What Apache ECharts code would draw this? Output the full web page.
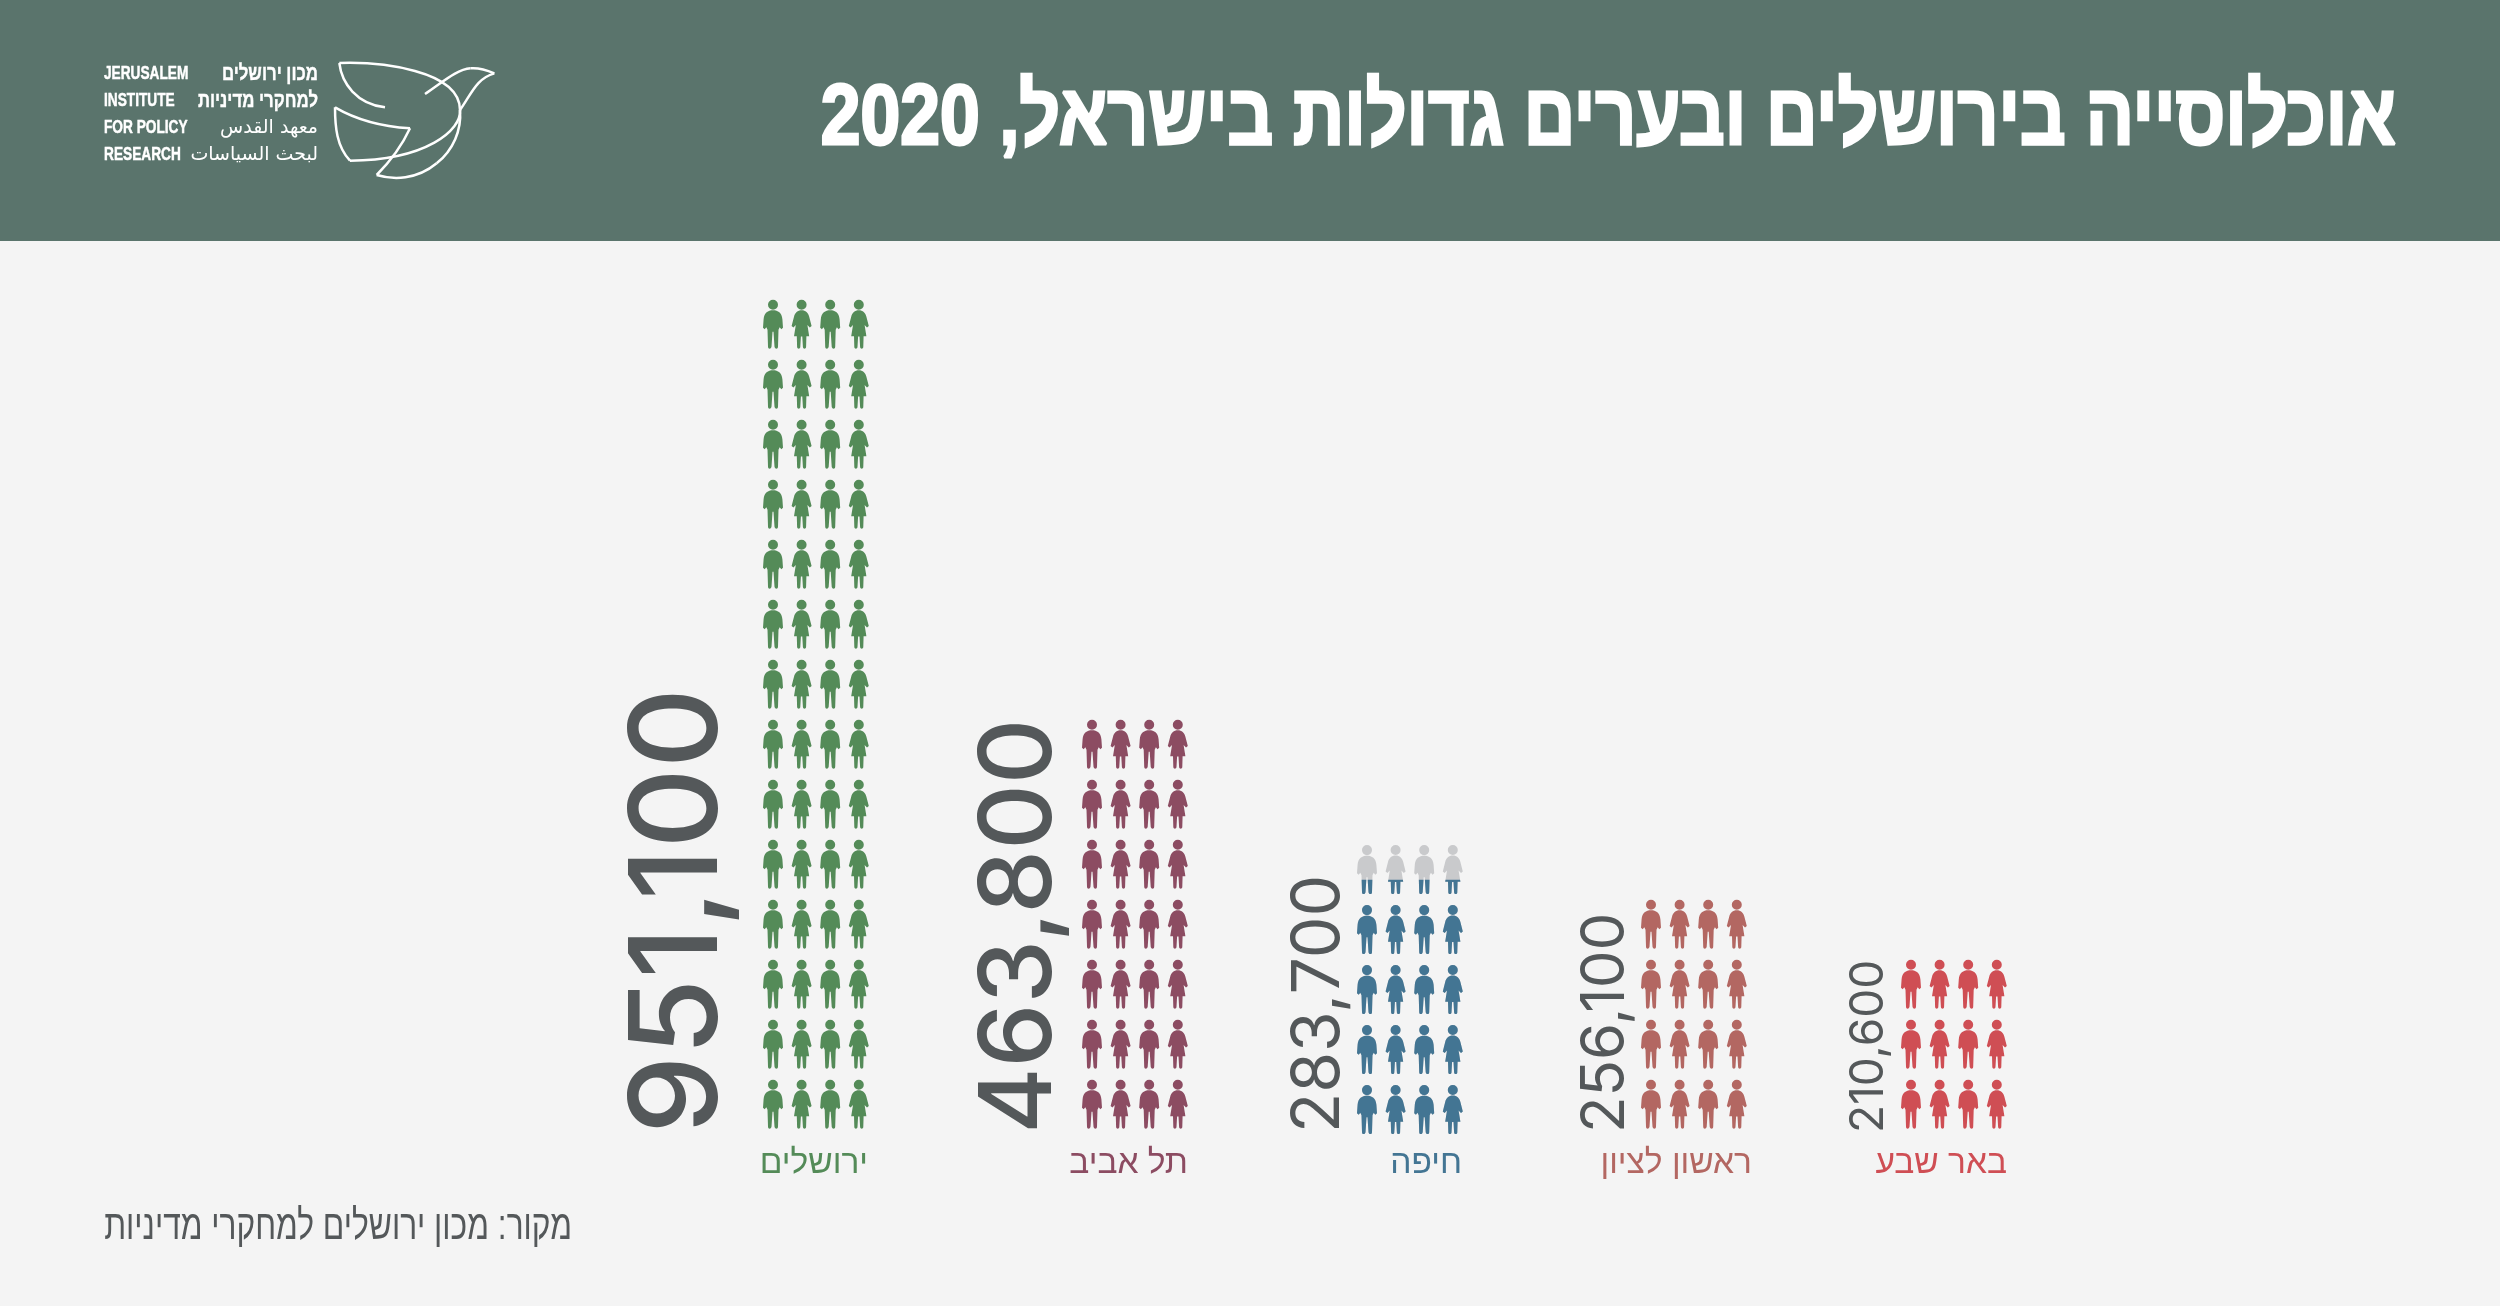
<!DOCTYPE html>
<html>
<head>
<meta charset="utf-8">
<title>אוכלוסייה בירושלים</title>
<style>html,body{margin:0;padding:0;background:#f4f4f4}#main{width:2500px;height:1306px}</style>
<script src="https://cdn.jsdelivr.net/npm/echarts@6/dist/echarts.min.js"></script>
</head>
<body>
<div id="main"></div>
<script>
// data
var cities = ['ירושלים', 'תל אביב', 'חיפה', 'ראשון לציון', 'באר שבע'];
var population = ['951,100', '463,800', '283,700', '256,100', '210,600'];
var filledRows = [14, 7, 4.33, 4, 3];   // rows of figures, Haifa's top row is part filled
var shownRows = [14, 7, 5, 4, 3];
var figureColumns = ['גבר', 'אישה', 'גבר', 'אישה'];
var cityColors = ['#548b58', '#8c4c62', '#437593', '#b36762', '#cf4e54'];

// layout
var gridLeft = [758.7, 1077.7, 1352.7, 1636.7, 1896.7];
var gridBase = [1134.2, 1134.2, 1139.6, 1134.2, 1134.2];
var rowHeight = 60, axisRows = 15;
var numberFont = [122, 100, 66, 60, 46];
var numberWeight = [500, 500, 400, 400, 400];
var numberStretch = [1.02, 1.015, 1, 1, 1];
var numberX = [680, 1021, 1319, 1606, 1869];
var numberY = [1134, 1134, 1133, 1133, 1133];
var nameRight = [868, 1188, 1462, 1752, 2007];

var manPath = 'path://M15,5A5,5 0 1 1 5,5A5,5 0 1 1 15,5ZM10,10.5C15,10.5 18.8,13 19.4,19.5L20,28L18.3,29.5L16.7,27.5L15.5,30L15,47C15,49.5 12,49.5 11.5,47L10.5,32L9.5,32L8.5,47C8,49.5 5,49.5 5,47L4.5,30L3.3,27.5L1.7,29.5L0,28L0.6,19.5C1.2,13 5,10.5 10,10.5Z';
var womanPath = 'path://M15,5A5,5 0 1 1 5,5A5,5 0 1 1 15,5ZM10,10.5C14,10.5 16.6,13 17.6,17L20,26.5L18.2,28L15.8,25.5L17.6,36.7L14.8,36.7L14.5,47.5C14.3,49.7 11.5,49.7 11.3,47.5L10.7,37L9.3,37L8.7,47.5C8.5,49.7 5.7,49.7 5.5,47.5L5.2,36.7L2.4,36.7L4.2,25.5L1.8,28L0,26.5L2.4,17C3.4,13 6,10.5 10,10.5Z';

var grids = [], xAxes = [], yAxes = [], series = [];

function figureSeries(i, value, color, clip) {
  return {
    type: 'pictorialBar',
    xAxisIndex: i,
    yAxisIndex: i,
    barGap: '-100%',
    silent: true,
    symbolSize: [20, 49],
    symbolRepeat: shownRows[i],
    symbolMargin: '0!',
    symbolClip: clip,
    symbolBoundingData: shownRows[i],
    symbolPosition: 'start',
    itemStyle: { color: color },
    data: figureColumns.map(function (c, k) {
      return { value: value, symbol: k % 2 ? womanPath : manPath };
    })
  };
}

cities.forEach(function (city, i) {
  grids.push({
    left: gridLeft[i],
    width: 114.4,
    top: gridBase[i] - axisRows * rowHeight,
    height: axisRows * rowHeight
  });
  xAxes.push({ type: 'category', gridIndex: i, data: figureColumns, show: false });
  yAxes.push({ type: 'value', gridIndex: i, min: 0, max: axisRows, show: false });
  // grey under-layer where the last row is not full
  if (filledRows[i] < shownRows[i]) {
    series.push(figureSeries(i, shownRows[i], '#c9cacc', false));
  }
  series.push(figureSeries(i, filledRows[i], cityColors[i], true));
});

var textGray = '#54585a';
var graphics = [
  { type: 'rect', z: -1, shape: { x: 0, y: 0, width: 2500, height: 241 }, style: { fill: '#5a746c' } },
  { type: 'text', x: 2396, y: 120, scaleX: 0.83, style: { text: 'אוכלוסייה בירושלים ובערים גדולות בישראל, 2020', fill: '#fff', stroke: '#fff', lineWidth: 3, align: 'right', verticalAlign: 'middle', fontFamily: 'Liberation Sans', fontWeight: 'bold', fontSize: 86 } },
  { type: 'text', x: 572, y: 1227, scaleX: 0.755, style: { text: 'מקור: מכון ירושלים למחקרי מדיניות', fill: textGray, align: 'right', verticalAlign: 'middle', fontFamily: 'Liberation Sans', fontSize: 42 } }
];

// logo lettering
var logoEn = ['JERUSALEM', 'INSTITUTE', 'FOR POLICY', 'RESEARCH'];
var logoHe = ['מכון ירושלים', 'למחקרי מדיניות'];
var logoAr = ['معهد القدس', 'لبحث السياسات'];
var logoY = [74, 101, 128, 155];
logoEn.forEach(function (t, i) {
  graphics.push({ type: 'text', x: 104, y: logoY[i], scaleX: 0.72, style: { text: t, fill: '#fff', stroke: '#fff', lineWidth: 0.5, verticalAlign: 'middle', fontFamily: 'Liberation Sans', fontWeight: 'bold', fontSize: 19 } });
});
logoHe.forEach(function (t, i) {
  graphics.push({ type: 'text', x: 318, y: logoY[i], scaleX: 0.8, style: { text: t, fill: '#fff', stroke: '#fff', lineWidth: 0.4, align: 'right', verticalAlign: 'middle', fontFamily: 'Liberation Sans', fontWeight: 'bold', fontSize: 21 } });
});
logoAr.forEach(function (t, i) {
  graphics.push({ type: 'text', x: 318, y: logoY[i + 2], style: { text: t, fill: '#fff', align: 'right', verticalAlign: 'middle', fontFamily: 'DejaVu Sans', fontSize: 19 } });
});

// dove outline, x0 y0 then curve segments
var dove = [
  [975,232, 890,222, 845,160, 838,99],
  [838,99, 960,95, 1200,120, 1200,240],
  [1200,240, 1205,300, 1100,390, 870,392],
  [870,392, 830,350, 825,290, 825,232],
  [825,232, 890,270, 970,290, 1050,295],
  [1050,295, 1020,360, 985,400, 950,435],
  [950,435, 1000,450, 1070,450, 1130,400],
  [1130,400, 1180,360, 1205,300, 1200,240],
  [1200,240, 1235,190, 1250,145, 1303,130],
  [1303,130, 1275,118, 1255,113, 1232,115],
  [1232,115, 1190,118, 1150,155, 1095,192]
];
dove.forEach(function (s) {
  graphics.push({
    type: 'bezierCurve',
    x: 60, y: 30, scaleX: 1 / 3, scaleY: 1 / 3,
    shape: { x1: s[0], y1: s[1], cpx1: s[2], cpy1: s[3], cpx2: s[4], cpy2: s[5], x2: s[6], y2: s[7] },
    style: { fill: 'none', stroke: '#fff', lineWidth: 7.5 }
  });
});

cities.forEach(function (city, i) {
  graphics.push({ type: 'text', x: numberX[i], y: numberY[i], rotation: Math.PI / 2, scaleX: numberStretch[i], style: { text: population[i], fill: textGray, align: 'left', verticalAlign: 'middle', fontFamily: 'Inter', fontWeight: numberWeight[i], fontSize: numberFont[i] } });
  graphics.push({ type: 'text', x: nameRight[i], y: 1164, style: { text: city, fill: cityColors[i], align: 'right', verticalAlign: 'middle', fontFamily: 'Liberation Sans', fontSize: 33.5 } });
});

var chart = echarts.init(document.getElementById('main'));
chart.setOption({
  animation: false,
  backgroundColor: '#f4f4f4',
  grid: grids,
  xAxis: xAxes,
  yAxis: yAxes,
  series: series,
  graphic: graphics
});
</script>
</body>
</html>
